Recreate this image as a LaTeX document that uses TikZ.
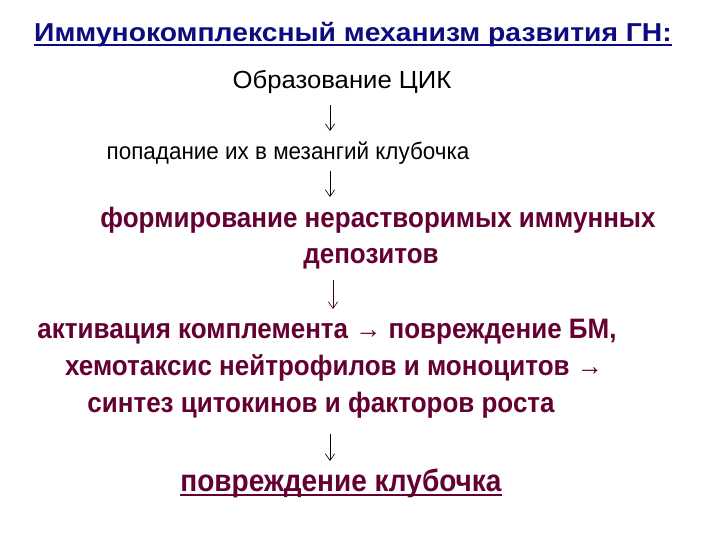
\documentclass[tikz,border=0pt]{standalone}
\usepackage{fontspec}
\setmainfont{Liberation Sans}
\usetikzlibrary{arrows.meta}

\definecolor{titleblue}{RGB}{12,12,128}
\definecolor{deepmaroon}{RGB}{100,0,50}

% slightly taller lettering, as on the slide
\newcommand{\tallline}[1]{\scalebox{1}[1.08]{#1}}

\tikzset{
    plainline/.style={anchor=base, inner sep=0pt, text=black},
    boldline/.style={anchor=base, inner sep=0pt, text=deepmaroon, font=\fontsize{19.5}{22}\selectfont\bfseries},
    titleline/.style={anchor=base, inner sep=0pt, text=titleblue, font=\fontsize{18.5}{22}\selectfont\bfseries},
    underbar/.style={line width=1.5pt},
    downarrow/.style={-{Straight Barb[length=5pt,width=7pt]}, line width=0.5pt}
}

\begin{document}
\begin{tikzpicture}[x=0.75pt,y=-0.75pt]
    \useasboundingbox (0,0) rectangle (720,540);

    \node[titleline] (Title) at (353,41) {\scalebox{1.146}[1.05]{Иммунокомплексный механизм развития ГН:}};

    \node[plainline, font=\fontsize{18}{20}\selectfont] (CIC) at (342,88) {\scalebox{1.07}[1.03]{Образование ЦИК}};
    \node[plainline, font=\fontsize{17}{20}\selectfont] (Mesangium) at (288,159) {\scalebox{0.99}[1.05]{попадание их в мезангий клубочка}};
    \node[boldline] (Deposits) at (378,227) {\tallline{формирование нерастворимых иммунных}};
    \node[boldline] (DepositsB) at (371,263) {\tallline{депозитов}};
    \node[boldline] (Complement) at (327,338) {\tallline{активация комплемента → повреждение БМ,}};
    \node[boldline] (Chemotaxis) at (334,375) {\tallline{хемотаксис нейтрофилов и моноцитов →}};
    \node[boldline] (Cytokines) at (321,412) {\tallline{синтез цитокинов и факторов роста}};
    \node[boldline, font=\fontsize{21}{24}\selectfont\bfseries] (Damage) at (341,491) {\scalebox{1}[1.1]{повреждение клубочка}};

    % underlines
    \draw[underbar, titleblue] ([yshift=-2.8pt]Title.base west) -- ([yshift=-2.8pt]Title.base east);
    \draw[underbar, deepmaroon] ([yshift=-2.8pt]Damage.base west) -- ([yshift=-2.8pt]Damage.base east);

    \coordinate (A1s) at (330,105);
    \coordinate (A1e) at (330,131);
    \coordinate (A2s) at (330,171);
    \coordinate (A2e) at (330,197);
    \coordinate (A3s) at (333,280);
    \coordinate (A3e) at (333,309);
    \coordinate (A4s) at (330,434);
    \coordinate (A4e) at (330,461);

    \draw[downarrow] (A1s) -- (A1e);
    \draw[downarrow] (A2s) -- (A2e);
    \draw[downarrow, deepmaroon!60!black] (A3s) -- (A3e);
    \draw[downarrow] (A4s) -- (A4e);
\end{tikzpicture}
\end{document}
